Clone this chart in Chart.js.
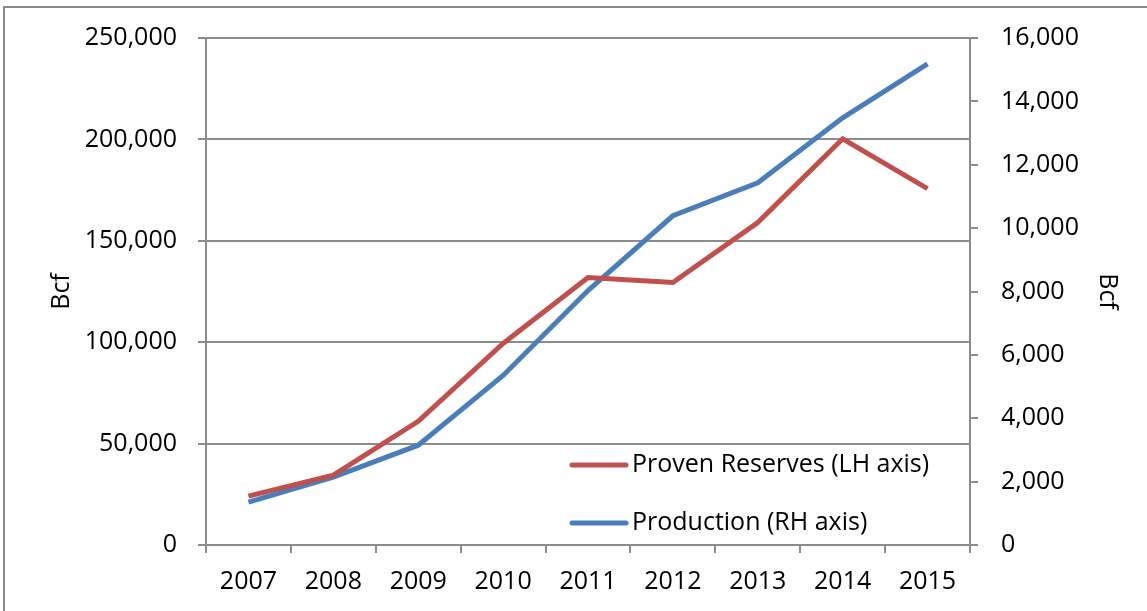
<!DOCTYPE html>
<html>
<head>
<meta charset="utf-8">
<script src="https://cdn.jsdelivr.net/npm/chart.js@4/dist/chart.umd.min.js"></script>
<style>
  html, body { margin: 0; padding: 0; background: #fff; }
  #wrap { position: relative; width: 1147px; height: 611px; overflow: hidden; }
  #frame {
    position: absolute; left: 3px; top: 6px; width: 1160px; height: 620px;
    border-left: 2px solid #8a8a8a; border-top: 2px solid #8a8a8a;
  }
  canvas { position: absolute; left: 0; top: 0; }
</style>
</head>
<body>
<div id="wrap">
  <div id="frame"></div>
  <canvas id="chart" width="1147" height="611"></canvas>
</div>
<script>
const years = ['2007', '2008', '2009', '2010', '2011', '2012', '2013', '2014', '2015']
const reserves = [24100, 34450, 61000, 99400, 131900, 129400, 159000, 200300, 175700]
const production = [1350, 2140, 3150, 5350, 8030, 10390, 11430, 13480, 15180]

const FONT = "'Open Sans', sans-serif"
const gridColor = '#8c8c8c'

const numberLabel = (value) => value.toLocaleString('en-US')

// legend drawn inside the plot, bottom right
const insideLegend = {
  id: 'insideLegend',
  afterDraw (chart) {
    const { ctx } = chart
    const rows = [{ y: 465 }, { y: 523 }]
    ctx.save()
    ctx.font = '25px ' + FONT
    ctx.textBaseline = 'middle'
    ctx.lineCap = 'round'
    chart.data.datasets.forEach((ds, i) => {
      const y = rows[i].y
      ctx.strokeStyle = ds.borderColor
      ctx.lineWidth = 5
      ctx.beginPath()
      ctx.moveTo(572, y)
      ctx.lineTo(626, y)
      ctx.stroke()
      ctx.fillStyle = '#000'
      ctx.fillText(ds.label, 632, y)
    })
    ctx.restore()
  }
}

new Chart(document.getElementById('chart'), {
  type: 'line',
  data: {
    labels: years,
    datasets: [
      {
        label: 'Proven Reserves (LH axis)',
        data: reserves,
        yAxisID: 'y',
        borderColor: '#c0504d',
        borderWidth: 5,
        pointRadius: 0,
        tension: 0
      },
      {
        label: 'Production (RH axis)',
        data: production,
        yAxisID: 'y1',
        borderColor: '#4a7ebb',
        borderWidth: 5,
        pointRadius: 0,
        tension: 0
      }
    ]
  },
  options: {
    responsive: false,
    animation: false,
    layout: { padding: { top: 37, left: 0, right: 0, bottom: 0 } },
    plugins: {
      legend: { display: false },
      tooltip: { enabled: false }
    },
    scales: {
      x: {
        offset: true,
        afterFit: (scale) => { scale.height = 611 - 545 },
        grid: {
          offset: true,
          drawOnChartArea: false,
          drawTicks: true,
          tickLength: 8,
          color: gridColor,
          lineWidth: 2
        },
        border: { color: gridColor, width: 2 },
        ticks: {
          color: '#000',
          font: { family: FONT, size: 25 },
          padding: 14,
          maxRotation: 0
        }
      },
      y: {
        position: 'left',
        min: 0,
        max: 250000,
        afterFit: (scale) => { scale.width = 206 },
        ticks: {
          stepSize: 50000,
          color: '#000',
          font: { family: FONT, size: 25 },
          padding: 21,
          callback: numberLabel
        },
        grid: {
          color: gridColor,
          lineWidth: 2,
          tickLength: 8
        },
        border: { color: gridColor, width: 2 },
        title: {
          display: true,
          text: 'Bcf',
          color: '#000',
          font: { family: FONT, size: 25 },
          padding: { top: 47, bottom: 0 }
        }
      },
      y1: {
        position: 'right',
        min: 0,
        max: 16000,
        afterFit: (scale) => { scale.width = 1147 - 970 },
        ticks: {
          stepSize: 2000,
          color: '#000',
          font: { family: FONT, size: 25 },
          padding: 23,
          callback: numberLabel
        },
        grid: {
          drawOnChartArea: false,
          color: gridColor,
          lineWidth: 2,
          tickLength: 8
        },
        border: { color: gridColor, width: 2 },
        title: {
          display: true,
          text: 'Bcf',
          color: '#000',
          font: { family: FONT, size: 25 },
          padding: { top: 25, bottom: 0 }
        }
      }
    }
  },
  plugins: [insideLegend]
})
</script>
</body>
</html>
